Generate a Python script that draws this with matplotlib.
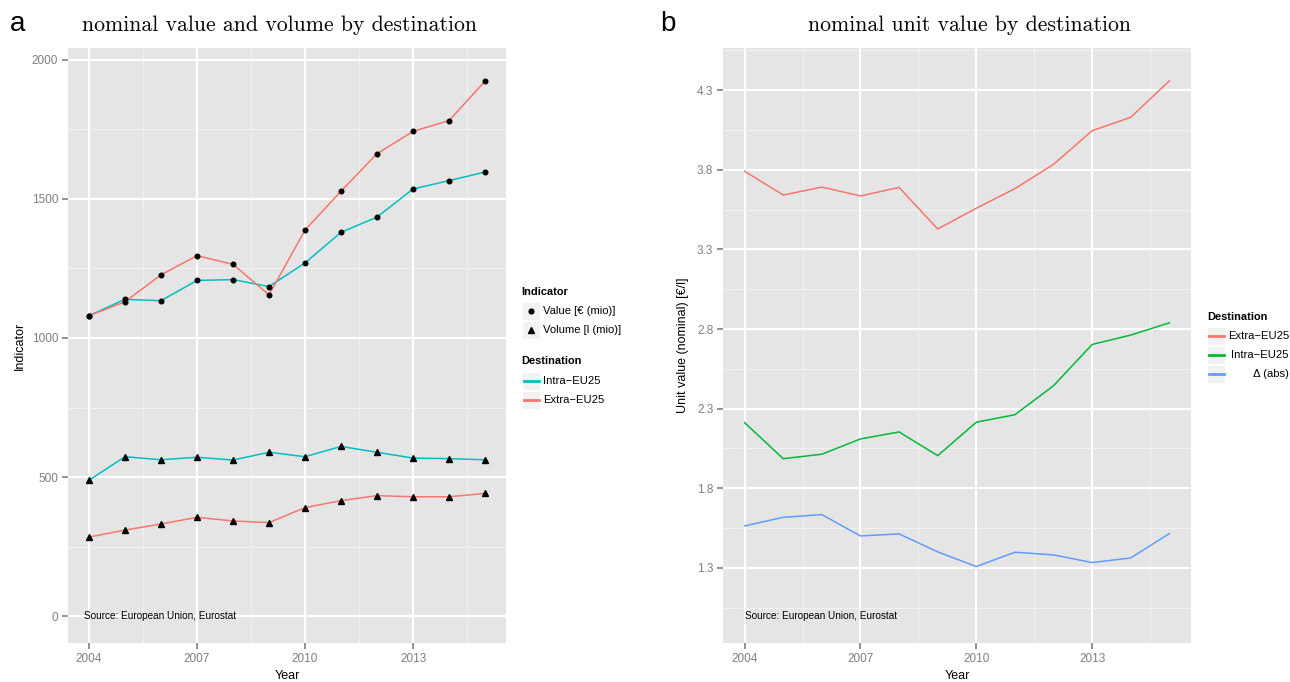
import matplotlib
matplotlib.use("Agg")
import matplotlib.pyplot as plt
from matplotlib.lines import Line2D
from matplotlib.patches import Rectangle

W, H = 1290, 682
years = list(range(2004, 2016))

# Panel a: value and volume
value_intra = [1080, 1139, 1134, 1207, 1210, 1185, 1270, 1380, 1435, 1536, 1566, 1597]
value_extra = [1080, 1130, 1227, 1296, 1265, 1155, 1388, 1528, 1663, 1743, 1782, 1924]
volume_intra = [488, 573, 562, 571, 561, 589, 573, 610, 589, 568, 566, 562]
volume_extra = [284, 309, 331, 355, 342, 336, 390, 415, 433, 429, 429, 441]

# Panel b: unit values
uv_extra = [3.790, 3.641, 3.691, 3.635, 3.689, 3.428, 3.558, 3.681, 3.834, 4.045, 4.129, 4.358]
uv_intra = [2.212, 1.986, 2.014, 2.110, 2.154, 2.005, 2.215, 2.262, 2.444, 2.703, 2.762, 2.839]
uv_delta = [1.564, 1.618, 1.635, 1.501, 1.514, 1.401, 1.309, 1.399, 1.382, 1.334, 1.363, 1.516]

xticks = [2004, 2007, 2010, 2013]
yticks_a = [0, 500, 1000, 1500, 2000]
yticks_b = [1.3, 1.8, 2.3, 2.8, 3.3, 3.8, 4.3]

RED = "#F8766D"
CYAN = "#00BFC4"
GREEN = "#00BA38"
BLUE = "#619CFF"
BG = "#E5E5E5"
TICKC = "#7F7F7F"
SANS = "Liberation Sans"

fig = plt.figure(figsize=(W / 100, H / 100), dpi=100)


def rect(x0, y0, x1, y1):
    return [x0 / W, 1 - y1 / H, (x1 - x0) / W, (y1 - y0) / H]


def fx(x):
    return x / W


def fy(y):
    return 1 - y / H


def style(ax, xminor, yminor):
    ax.set_facecolor(BG)
    for s in ax.spines.values():
        s.set_visible(False)
    ax.set_xticks(xminor, minor=True)
    ax.set_yticks(yminor, minor=True)
    ax.grid(which="major", color="white", linewidth=1.6)
    ax.grid(which="minor", color="#F2F2F2", linewidth=0.8)
    ax.set_axisbelow(True)
    ax.tick_params(which="major", colors=TICKC, length=4, width=1.2, labelsize=8.5,
                   labelcolor=TICKC, pad=3)
    ax.tick_params(which="minor", length=0)
    for lab in ax.get_xticklabels() + ax.get_yticklabels():
        lab.set_fontfamily(SANS)


# ---------------- Panel a ----------------
ax1 = fig.add_axes(rect(68, 48, 506, 643))
ax1.plot(years, value_intra, color=CYAN, lw=1.1, zorder=3)
ax1.plot(years, value_extra, color=RED, lw=1.1, zorder=3)
ax1.plot(years, volume_intra, color=CYAN, lw=1.1, zorder=3)
ax1.plot(years, volume_extra, color=RED, lw=1.1, zorder=3)
for v in (value_intra, value_extra):
    ax1.plot(years, v, "o", color="black", ms=3.3, zorder=4, ls="none")
for v in (volume_intra, volume_extra):
    ax1.plot(years, v, "^", color="black", ms=3.8, zorder=4, ls="none")
ax1.set_xlim(2003.42, 2015.58)
ax1.set_ylim(-97, 2043)
ax1.set_xticks(xticks)
ax1.set_yticks(yticks_a)
style(ax1, [2005.5, 2008.5, 2011.5, 2014.5], [250, 750, 1250, 1750])
ax1.text(2003.86, 0, "Source: European Union, Eurostat", fontsize=7.2,
         family=SANS, va="center", ha="left", zorder=5)
ax1.set_ylabel("Indicator", fontsize=9, family=SANS, labelpad=4)

# ---------------- Panel b ----------------
ax2 = fig.add_axes(rect(723, 48, 1191, 643))
ax2.plot(years, uv_extra, color=RED, lw=1.1)
ax2.plot(years, uv_intra, color=GREEN, lw=1.1)
ax2.plot(years, uv_delta, color=BLUE, lw=1.1)
ax2.set_xlim(2003.44, 2015.56)
ax2.set_ylim(0.829, 4.564)
ax2.set_xticks(xticks)
ax2.set_yticks(yticks_b)
ax2.set_yticklabels([f"{t:.1f}" for t in yticks_b])
style(ax2, [2005.5, 2008.5, 2011.5, 2014.5], [1.05, 1.55, 2.05, 2.55, 3.05, 3.55, 4.05, 4.55])
ax2.text(2004, 1.0, "Source: European Union, Eurostat", fontsize=7.2,
         family=SANS, va="center", ha="left", zorder=5)
ax2.set_ylabel("Unit value (nominal) [€/l]", fontsize=9, family=SANS, labelpad=6)

# x axis titles placed explicitly
fig.text(fx(287), fy(676), "Year", fontsize=9, family=SANS, ha="center", va="center")
fig.text(fx(957), fy(676), "Year", fontsize=9, family=SANS, ha="center", va="center")

# ---------------- Titles and panel letters ----------------
fig.text(fx(280), fy(25), "nominal value and volume by destination", fontsize=15.7,
         family="cmr10", ha="center", va="center")
fig.text(fx(969), fy(25), "nominal unit value by destination", fontsize=15.7,
         family="cmr10", ha="center", va="center")
fig.text(fx(10), fy(24), "a", fontsize=20, family=SANS, ha="left", va="center")
fig.text(fx(660), fy(24), "b", fontsize=20, family=SANS, ha="left", va="center")

# ---------------- Legends (drawn manually) ----------------
def key_box(x0, y0, size=18):
    fig.patches.append(Rectangle((fx(x0), fy(y0 + size)), size / W, size / H,
                                 transform=fig.transFigure, facecolor="#F2F2F2",
                                 edgecolor="white", lw=0.8))


def key_line(x0, yc, color, size=18):
    fig.lines.append(Line2D([fx(x0 + 1.5), fx(x0 + size - 1.5)], [fy(yc), fy(yc)],
                            transform=fig.transFigure, color=color, lw=2.0))


def key_marker(x0, yc, marker, ms, size=18):
    fig.lines.append(Line2D([fx(x0 + size / 2)], [fy(yc)], transform=fig.transFigure,
                            marker=marker, color="black", ms=ms, ls="none"))


LEGFS = 8.1

# panel a legend
fig.text(fx(521), fy(292), "Indicator", fontsize=7.9, weight="bold", family=SANS,
         ha="left", va="center")
key_box(522, 302)
key_marker(522, 311, "o", 3.4)
fig.text(fx(543), fy(311), "Value [€ (mio)]", fontsize=LEGFS, family=SANS, ha="left", va="center")
key_box(522, 321)
key_marker(522, 330, "^", 3.9)
fig.text(fx(543), fy(330), "Volume [l (mio)]", fontsize=LEGFS, family=SANS, ha="left", va="center")

fig.text(fx(521), fy(361), "Destination", fontsize=7.9, weight="bold", family=SANS,
         ha="left", va="center")
key_box(522, 372)
key_line(522, 381, CYAN)
fig.text(fx(543), fy(381), "Intra\u2212EU25", fontsize=LEGFS, family=SANS, ha="left", va="center")
key_box(522, 391)
key_line(522, 400, RED)
fig.text(fx(543), fy(400), "Extra\u2212EU25", fontsize=LEGFS, family=SANS, ha="left", va="center")

# panel b legend
fig.text(fx(1207), fy(317), "Destination", fontsize=7.9, weight="bold", family=SANS,
         ha="left", va="center")
for i, (lab, col) in enumerate([("Extra\u2212EU25", RED), ("Intra\u2212EU25", GREEN),
                                ("\u0394 (abs)", BLUE)]):
    y0 = 327 + i * 19
    key_box(1207, y0)
    key_line(1207, y0 + 9, col)
    fig.text(fx(1289), fy(y0 + 9), lab, fontsize=LEGFS, family=SANS, ha="right", va="center")

fig.savefig("out.png", dpi=100)
